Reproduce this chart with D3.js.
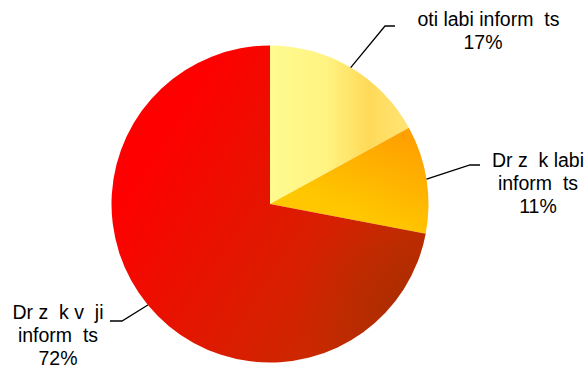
<!DOCTYPE html>
<html>
<head>
<meta charset="utf-8">
<script src="https://cdn.jsdelivr.net/npm/d3@7"></script>
<style>
  html, body { margin: 0; padding: 0; background: #ffffff; }
  svg { display: block; }
  text { font-family: "Liberation Sans", Arial, sans-serif; white-space: pre; }
</style>
</head>
<body>
<svg id="chart" width="586" height="369"></svg>
<script>
// ---- data ----
const categories = ["  oti labi inform  ts", "Dr z  k labi inform  ts", "Dr z  k v  ji inform  ts"];
const labelLines = [
  ["  oti labi inform  ts"],
  ["Dr z  k labi", "inform  ts"],
  ["Dr z  k v  ji", "inform  ts"]
];
const values = [17, 11, 72];
const percentLabels = ["17%", "11%", "72%"];

// ---- layout ----
const W = 586, H = 369;
const cx = 270, cy = 204, R = 158.5;
const fontSize = 19.5, lineH = 23;
// label anchor: text centre x, first baseline, leader elbow and end
const labelLayout = [
  { tx: 483, ty: 26,  elbow: [385, 26],  end: [395, 26] },
  { tx: 538, ty: 167, elbow: [470, 165], end: [480, 165] },
  { tx: 58,  ty: 319, elbow: [122, 321], end: [110, 321] }
];

const svg = d3.select("#chart");
const defs = svg.append("defs");

// gradients (userSpace coordinates relative to the pie group)
function lin(id, x1, y1, x2, y2, stops) {
  const g = defs.append("linearGradient").attr("id", id)
    .attr("gradientUnits", "userSpaceOnUse")
    .attr("x1", x1).attr("y1", y1).attr("x2", x2).attr("y2", y2);
  stops.forEach(s => g.append("stop").attr("offset", s[0]).attr("stop-color", s[1]));
}
lin("g0", 0, 0, 140, 0, [[0, "#FFFB8F"], [0.4, "#FFF382"], [0.7, "#FFDA58"], [1, "#FFE476"]]);
lin("g1", 145, -64, 110, 20, [[0, "#FFA000"], [1, "#FFC700"]]);
lin("g2", -159, 0, 216, 247, [[0, "#FF0000"], [0.55, "#CC2800"], [0.85, "#A63000"], [1, "#A03000"]]);
const rg = defs.append("radialGradient").attr("id", "shade")
  .attr("gradientUnits", "userSpaceOnUse")
  .attr("cx", 135).attr("cy", 100).attr("r", 110);
rg.append("stop").attr("offset", 0).attr("stop-color", "#9C3000").attr("stop-opacity", 0.55);
rg.append("stop").attr("offset", 1).attr("stop-color", "#9C3000").attr("stop-opacity", 0);

const fills = ["url(#g0)", "url(#g1)", "url(#g2)"];

const pie = d3.pie().sort(null).value(d => d)(values);
const arc = d3.arc().innerRadius(0).outerRadius(R);
const edge = d3.arc().innerRadius(R).outerRadius(R);

const g = svg.append("g").attr("transform", `translate(${cx},${cy})`);
g.selectAll("path.slice").data(pie).enter().append("path")
  .attr("class", "slice")
  .attr("d", arc)
  .attr("fill", (d, i) => fills[i]);
// extra shading on the large slice
g.append("path").attr("d", arc(pie[2])).attr("fill", "url(#shade)");

// leader lines
pie.forEach((d, i) => {
  const mid = (d.startAngle + d.endAngle) / 2;
  const p0 = [cx + R * Math.sin(mid), cy - R * Math.cos(mid)];
  const L = labelLayout[i];
  svg.append("polyline")
    .attr("points", [p0, L.elbow, L.end].map(p => p.join(",")).join(" "))
    .attr("fill", "none").attr("stroke", "#000").attr("stroke-width", 1.3);
});

// labels
labelLines.forEach((lines, i) => {
  const L = labelLayout[i];
  const t = svg.append("text")
    .attr("x", L.tx).attr("y", L.ty)
    .attr("text-anchor", "middle")
    .attr("font-size", fontSize)
    .attr("fill", "#000");
  lines.concat([percentLabels[i]]).forEach((s, j) => {
    t.append("tspan").attr("x", L.tx).attr("y", L.ty + j * lineH).text(s);
  });
});
</script>
</body>
</html>
